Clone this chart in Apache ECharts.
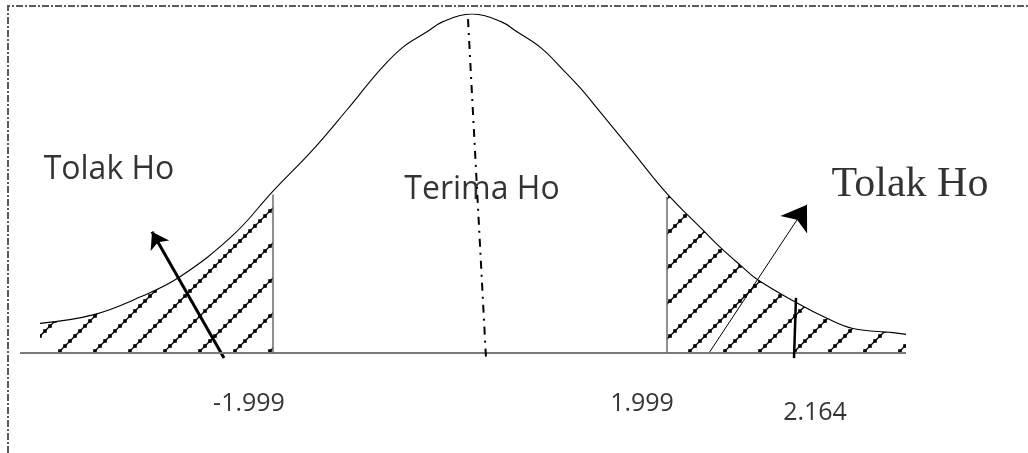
<!DOCTYPE html>
<html>
<head>
<meta charset="utf-8">
<script src="https://cdn.jsdelivr.net/npm/echarts@6/dist/echarts.min.js"></script>
<style>
  html, body { margin: 0; padding: 0; background: #fff; }
  #chart { width: 1028px; height: 453px; }
</style>
</head>
<body>
<div id="chart"></div>
<script>
// bell curve (x: schematic z units, y: density)
const curveX = [-4.32, -3.79, -3.32, -2.92, -2.39, -1.99, -1.59, -1.25, -0.92, -0.69, -0.45, -0.29, 0,
  0.29, 0.45, 0.69, 0.92, 1.08, 1.25, 1.59, 1.95, 2.31, 2.48, 2.68, 2.85, 3.25, 3.55, 3.81, 4.21, 4.34];
const curveY = [0.035, 0.045, 0.066, 0.090, 0.139, 0.191, 0.240, 0.287, 0.334, 0.361, 0.379, 0.391, 0.400,
  0.391, 0.379, 0.360, 0.333, 0.313, 0.289, 0.240, 0.188, 0.145, 0.125, 0.104, 0.087, 0.059, 0.041, 0.029, 0.024, 0.022];

// critical values (drawn schematic, not to scale)
const critX = [-1.99, 1.95];
const baseX = [-4.52, 4.34];
const tHitung = [[3.24, 0.065], [3.22, -0.006]];
const centerLine = [[-0.04, 0.394], [0.14, -0.006]];
const arrowLeft = [[-2.48, -0.006], [-3.20, 0.143]];
const arrowRight = [[2.37, 0], [3.35, 0.175]];

const tickTexts = ['-1.999', '1.999', '2.164'];
const tickX = [-2.23, 1.70, 3.43];
const tickY = [-0.060, -0.060, -0.071];

const regionTexts = ['Tolak Ho', 'Terima Ho', 'Tolak Ho'];
const regionX = [-3.63, 0.10, 4.38];
const regionY = [0.216, 0.192, 0.198];

const curve = curveX.map((x, i) => [x, curveY[i]]);
const leftTail = curve.filter(p => p[0] <= critX[0]);
const rightTail = curve.filter(p => p[0] >= critX[1]);
const critTop = critX.map(x => curveY[curveX.indexOf(x)]);

// dotted diagonal hatch like the original drawing
function hatchTile() {
  const s = 35;
  const c = document.createElement('canvas');
  c.width = s; c.height = s;
  const g = c.getContext('2d');
  g.fillStyle = '#000';
  g.strokeStyle = '#000';
  g.lineWidth = 1.3;
  [-9, 26, 61].forEach(k => {
    g.beginPath();
    g.moveTo(-10, k + 10);
    g.lineTo(45, k - 45);
    g.stroke();
    for (let x = -10; x <= 45; x += 5) g.fillRect(x - 1.8, k - x - 1.8, 3.6, 3.6);
  });
  return c;
}
const hatch = { image: hatchTile(), repeat: 'repeat' };

const chart = echarts.init(document.getElementById('chart'));

const tailSeries = [leftTail, rightTail].map(d => ({
  type: 'line', data: d, smooth: 0.4, symbol: 'none', silent: true,
  lineStyle: { width: 0 },
  areaStyle: { color: hatch, opacity: 1 }
}));

const critSeries = critX.map((x, i) => ({
  type: 'line', data: [[x, 0], [x, critTop[i] - 0.004]], symbol: 'none',
  lineStyle: { color: '#6b6b6b', width: 1.5 }
}));

const labelData = tickTexts.map((t, i) => ({
  value: [tickX[i], tickY[i]], name: t,
  label: { fontSize: 25, fontFamily: 'Open Sans' }
})).concat(regionTexts.map((t, i) => ({
  value: [regionX[i], regionY[i]], name: t,
  label: i < 2 ? { fontSize: 32, fontFamily: 'Open Sans' }
               : { fontSize: 42, fontFamily: 'Liberation Serif' }
})));

chart.setOption({
  animation: false,
  backgroundColor: '#fff',
  grid: { left: 12, right: 96, top: 14, bottom: 15.25 },
  xAxis: { type: 'value', min: -4.6, max: 4.6, show: false },
  yAxis: { type: 'value', min: -0.1, max: 0.4, show: false },
  graphic: [{
    type: 'polyline',
    shape: { points: [[8, 453], [8, 6], [1028, 6]] },
    style: { stroke: '#5a5a5a', lineWidth: 2, fill: null, lineDash: [7, 2, 2, 2] }
  }],
  series: [
    ...tailSeries,
    {
      type: 'line', data: curve, smooth: 0.4, symbol: 'none',
      lineStyle: { color: '#000', width: 1.1 }
    },
    {
      type: 'line', data: baseX.map(x => [x, 0]), symbol: 'none',
      lineStyle: { color: '#7a7a7a', width: 2 }
    },
    ...critSeries,
    {
      type: 'line', data: centerLine, symbol: 'none',
      lineStyle: { color: '#000', width: 2, type: [8, 6, 2, 6] }
    },
    {
      type: 'line', data: tHitung, symbol: 'none',
      lineStyle: { color: '#000', width: 2.5 }
    },
    {
      type: 'lines', coordinateSystem: 'cartesian2d',
      symbol: ['none', 'arrow'], symbolSize: 16,
      lineStyle: { color: '#000', width: 3, opacity: 1 },
      data: [{ coords: arrowLeft }]
    },
    {
      type: 'lines', coordinateSystem: 'cartesian2d',
      symbol: ['none', 'arrow'], symbolSize: 24,
      lineStyle: { color: '#000', width: 1, opacity: 1 },
      data: [{ coords: arrowRight }]
    },
    {
      type: 'scatter', data: labelData, symbolSize: 1,
      itemStyle: { color: 'rgba(0,0,0,0)' },
      label: {
        show: true, position: 'inside', color: '#000',
        formatter: p => p.name
      }
    }
  ]
});
</script>
</body>
</html>
